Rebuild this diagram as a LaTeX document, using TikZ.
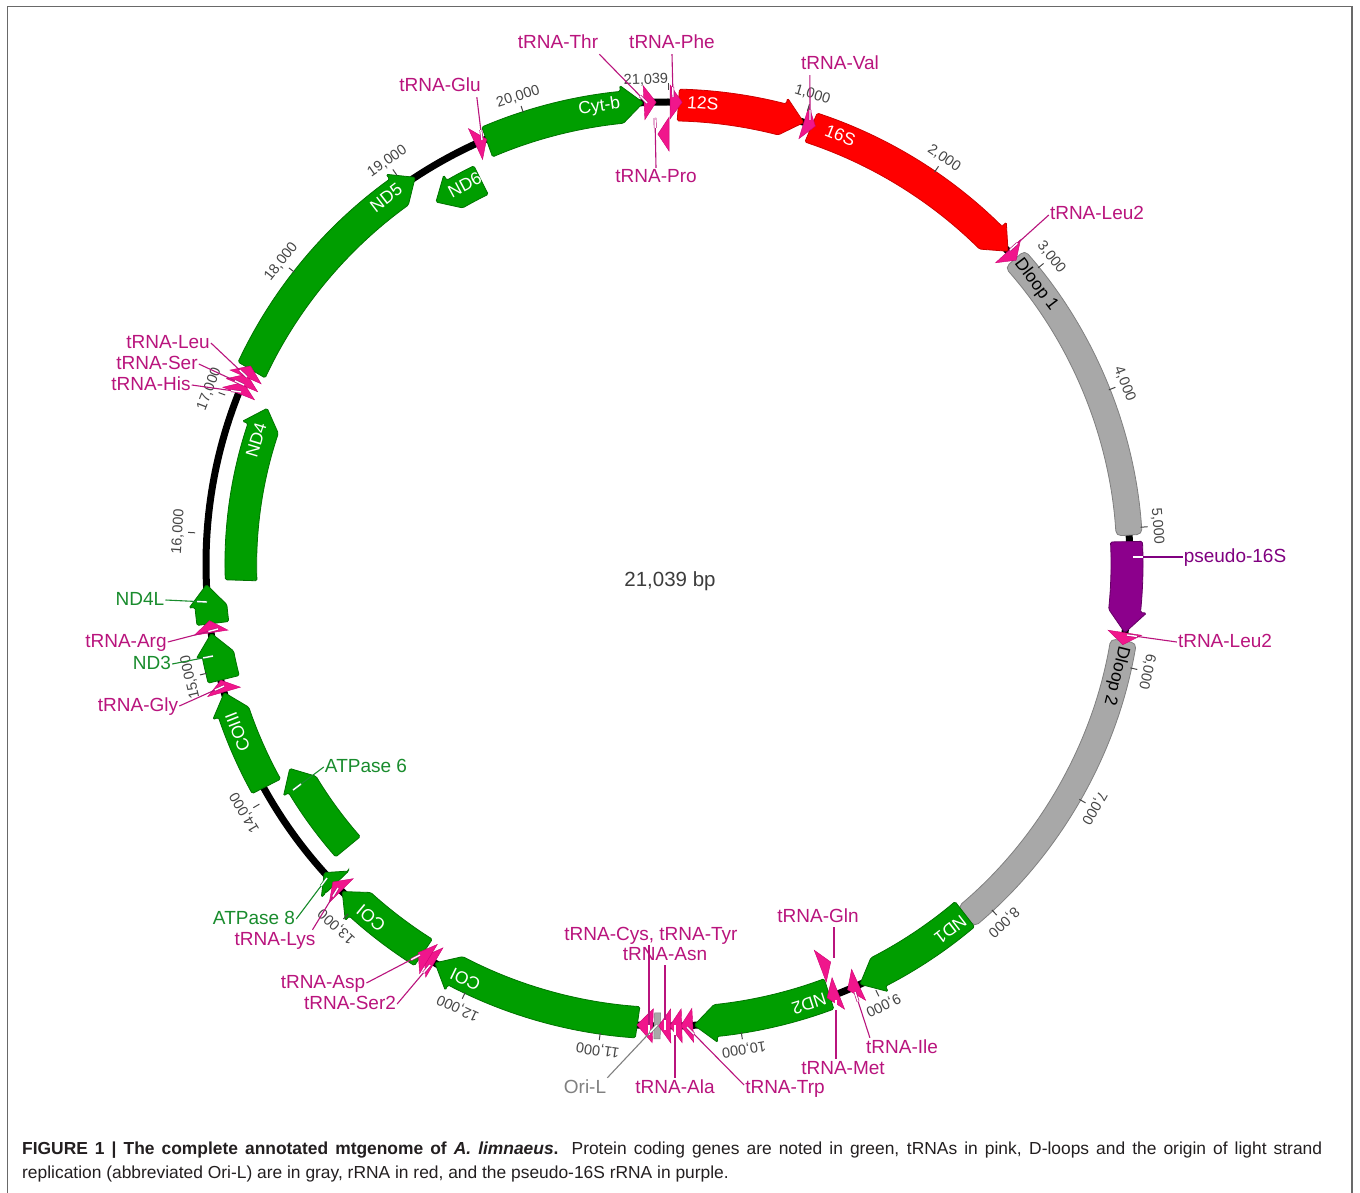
\documentclass[tikz,border=0pt]{standalone}
\usepackage{fontspec}
\setmainfont{Liberation Sans}
\usetikzlibrary{calc}
\definecolor{gfill}{RGB}{0,158,0}
\definecolor{gline}{RGB}{0,115,0}
\definecolor{rfill}{RGB}{255,0,0}
\definecolor{rline}{RGB}{205,0,0}
\definecolor{dfill}{RGB}{168,168,168}
\definecolor{dline}{RGB}{128,128,128}
\definecolor{pfill}{RGB}{140,0,140}
\definecolor{pline}{RGB}{100,0,100}
\definecolor{tfill}{RGB}{240,22,140}
\definecolor{tline}{RGB}{205,0,115}
\definecolor{tlabc}{RGB}{185,20,125}
\definecolor{glabc}{RGB}{25,140,45}
\definecolor{plabc}{RGB}{128,0,128}
\definecolor{olabc}{RGB}{128,128,128}
\definecolor{tickc}{RGB}{70,70,70}
\definecolor{capc}{RGB}{35,31,32}
\definecolor{framec}{RGB}{105,105,105}

\newcommand\featF[4]{%
 \pgfmathsetmacro\mgA{90-(#1)/21.039*360}%
 \pgfmathsetmacro\mgB{90-(#2)/21.039*360}%
 \pgfmathsetmacro\mgH{min(\mgB+2.7,\mgA)}%
 \pgfmathsetmacro\mgRo{#3+13}\pgfmathsetmacro\mgRi{#3-13}%
 \pgfmathsetmacro\mgHo{#3+19}\pgfmathsetmacro\mgHi{#3-19}%
 \draw[#4] (\mgA:\mgRo) arc[start angle=\mgA,end angle=\mgH,radius=\mgRo] -- (\mgH:\mgHo) -- (\mgB:#3) -- (\mgH:\mgHi) arc[start angle=\mgH,end angle=\mgA,radius=\mgRi] -- cycle;}
\newcommand\featR[4]{%
 \pgfmathsetmacro\mgA{90-(#1)/21.039*360}%
 \pgfmathsetmacro\mgB{90-(#2)/21.039*360}%
 \pgfmathsetmacro\mgH{max(\mgA-2.7,\mgB)}%
 \pgfmathsetmacro\mgRo{#3+13}\pgfmathsetmacro\mgRi{#3-13}%
 \pgfmathsetmacro\mgHo{#3+19}\pgfmathsetmacro\mgHi{#3-19}%
 \draw[#4] (\mgB:\mgRo) arc[start angle=\mgB,end angle=\mgH,radius=\mgRo] -- (\mgH:\mgHo) -- (\mgA:#3) -- (\mgH:\mgHi) arc[start angle=\mgH,end angle=\mgB,radius=\mgRi] -- cycle;}
\newcommand\featB[4]{%
 \pgfmathsetmacro\mgA{90-(#1)/21.039*360}%
 \pgfmathsetmacro\mgB{90-(#2)/21.039*360}%
 \pgfmathsetmacro\mgRo{#3+13}\pgfmathsetmacro\mgRi{#3-13}%
 \draw[#4] (\mgA:\mgRo) arc[start angle=\mgA,end angle=\mgB,radius=\mgRo] -- (\mgB:\mgRi) arc[start angle=\mgB,end angle=\mgA,radius=\mgRi] -- cycle;}
\newcommand\trnaF[3]{%
 \pgfmathsetmacro\mgA{90-(#1)/21.039*360}%
 \pgfmathsetmacro\mgB{min(90-(#2)/21.039*360,\mgA-1.5)}%
 \pgfmathsetmacro\mgRo{#3+17}\pgfmathsetmacro\mgRi{#3-17}%
 \draw[trnaf] (\mgA:\mgRo) -- (\mgB:#3) -- (\mgA:\mgRi) -- cycle;}
\newcommand\trnaR[3]{%
 \pgfmathsetmacro\mgA{90-(#1)/21.039*360}%
 \pgfmathsetmacro\mgB{min(90-(#2)/21.039*360,\mgA-1.5)}%
 \pgfmathsetmacro\mgRo{#3+17}\pgfmathsetmacro\mgRi{#3-17}%
 \draw[trnaf] (\mgB:\mgRo) -- (\mgA:#3) -- (\mgB:\mgRi) -- cycle;}
\newcommand\flab[5]{%
 \pgfmathsetmacro\mgA{90-(#1)/21.039*360}%
 \pgfmathsetmacro\mgR{\mgA-90}%
 \node[inlab,text=#4,rotate=\mgR] (#5) at (\mgA:#2) {#3};}
\newcommand\leadto[3]{%
 \draw[#1,line width=1.1] #2 -- (#3);
 \draw[#1,line width=0.7,double=white,double distance=1.4] (#3) -- ($(#3)!10pt!#2$);}

\tikzset{
 greenf/.style={fill=gfill,draw=gline,line width=0.8,rounded corners=1.5},
 redf/.style={fill=rfill,draw=rline,line width=0.8,rounded corners=1.5},
 grayf/.style={fill=dfill,draw=dline,line width=0.8,rounded corners=5},
 orif/.style={fill=dfill,draw=dline,line width=0.5},
 purpf/.style={fill=pfill,draw=pline,line width=0.8,rounded corners=1.5},
 trnaf/.style={fill=tfill,draw=tline,line width=0.4},
 lab/.style={font=\fontsize{19}{22}\selectfont,inner sep=1,text=tlabc,text height=14,text depth=4},
 greenlab/.style={lab,text=glabc},
 inlab/.style={font=\fontsize{17.5}{20}\selectfont,inner sep=0},
 ticklbl/.style={font=\fontsize{14.5}{16}\selectfont,text=tickc,inner sep=0},
 captext/.style={anchor=base west,inner sep=0,text=capc,font=\fontsize{17.4}{20}\selectfont},
}

\begin{document}
\begin{tikzpicture}[x=1pt,y=1pt]
\useasboundingbox (0,0) rectangle (1360,-1193);
\fill[white] (0,0) rectangle (1360,-1193);
\draw[framec,line width=1.6] (7.5,-1193) -- (7.5,-6.5) -- (1352,-6.5) -- (1352,-1193);

\begin{scope}[shift={(668,-564)}]
 \draw[black,line width=7] (0,0) circle[radius=462];
 % outer track
 \featF{0.08}{1.0}{462}{redf}
 \featF{1.07}{2.77}{462}{redf}
 \featB{2.845}{5.05}{462}{grayf}
 \featF{5.10}{5.76}{462}{purpf}
 \featB{5.82}{8.17}{462}{grayf}
 \featF{8.17}{9.085}{462}{greenf}
 \featF{9.325}{10.33}{462}{greenf}
 \featB{10.575}{10.62}{462}{orif}
 \featF{10.75}{12.29}{462}{greenf}
 \featF{12.405}{13.14}{462}{greenf}
 \featF{13.215}{13.33}{462}{greenf}
 \featF{14.09}{14.835}{462}{greenf}
 \featF{14.93}{15.275}{462}{greenf}
 \featF{15.345}{15.63}{462}{greenf}
 \featF{17.25}{19.10}{462}{greenf}
 \featF{19.69}{20.86}{462}{greenf}
 % inner track
 \featF{15.66}{17.02}{430}{greenf}
 \featF{13.36}{14.12}{430}{greenf}
 \featR{19.13}{19.52}{430}{greenf}
 % tRNAs
 \trnaF{0.015}{0.075}{462}
 \trnaF{1.0}{1.065}{462}
 \trnaF{2.77}{2.84}{462}
 \trnaF{5.76}{5.815}{462}
 \trnaF{9.095}{9.155}{462}
 \trnaR{9.22}{9.29}{430}
 \trnaF{9.255}{9.32}{462}
 \trnaF{10.34}{10.41}{462}
 \trnaF{10.42}{10.49}{462}
 \trnaF{10.50}{10.56}{462}
 \trnaF{10.63}{10.745}{462}
 \trnaF{12.295}{12.345}{462}
 \trnaF{12.345}{12.40}{462}
 \trnaF{13.15}{13.21}{462}
 \trnaF{14.84}{14.92}{462}
 \trnaF{15.28}{15.34}{462}
 \trnaF{17.045}{17.105}{462}
 \trnaF{17.11}{17.17}{462}
 \trnaF{17.175}{17.24}{462}
 \trnaF{19.60}{19.68}{462}
 \trnaF{20.865}{20.93}{462}
 \trnaR{20.96}{21.01}{430}
 % feature names
 \flab{0.253}{462}{12S}{white}{l12s}
 \flab{1.28}{462}{16S}{white}{l16s}
 \flab{3.087}{462}{Dloop 1}{black}{ld1}
 \flab{6.08}{462}{Dloop 2}{black}{ld2}
 \flab{8.317}{462}{ND1}{white}{lnd1}
 \flab{9.481}{462}{ND2}{white}{lnd2}
 \flab{12.04}{462}{COI}{white}{lco1}
 \flab{12.857}{462}{COI}{white}{lco2}
 \flab{14.534}{462}{COIII}{white}{lco3}
 \flab{16.755}{430}{ND4}{white}{lnd4}
 \flab{18.842}{462}{ND5}{white}{lnd5}
 \flab{19.391}{430}{ND6}{white}{lnd6}
 \flab{20.54}{462}{Cyt-b}{white}{lcytb}
 % ticks
 \foreach \k/\mglab in {1/{1,000},2/{2,000},3/{3,000},4/{4,000},5/{5,000},6/{6,000},7/{7,000},8/{8,000},9/{9,000},10/{10,000},11/{11,000},12/{12,000},13/{13,000},14/{14,000},15/{15,000},16/{16,000},17/{17,000},18/{18,000},19/{19,000},20/{20,000}}{
  \pgfmathsetmacro\mgT{90-\k/21.039*360}
  \pgfmathsetmacro\mgTr{\mgT-90}
  \draw[tickc,line width=1] (\mgT:474) -- (\mgT:481);
  \node[ticklbl,rotate=\mgTr] (tk\k) at (\mgT:491) {\mglab};
 }
 \draw[tickc,line width=1] (90:474) -- (90:481);
\end{scope}
\node[ticklbl,rotate=2] (tk0) at (646,-80) {21,039};

\node[font=\fontsize{20.5}{24}\selectfont,text={rgb,255:red,60;green,60;blue,60},inner sep=0] (total) at (670,-581) {21,039 bp};

% leader end points
\coordinate (c-thr) at (647,-103);
\coordinate (c-phe) at (673,-97);
\coordinate (c-pro) at (655,-118);
\coordinate (c-val) at (810,-120);
\coordinate (c-glu) at (482,-140);
\coordinate (c-leu2a) at (1010,-250);
\coordinate (c-p16) at (1133,-557);
\coordinate (c-leu2b) at (1127,-635);
\coordinate (c-gln) at (834,-968);
\coordinate (c-ile) at (855,-992);
\coordinate (c-met) at (836,-1000);
\coordinate (c-cys) at (649,-1035);
\coordinate (c-asn) at (665,-1030);
\coordinate (c-oril) at (657,-1025);
\coordinate (c-ala) at (675,-1025);
\coordinate (c-trp) at (687,-1027);
\coordinate (c-asp) at (420,-955);
\coordinate (c-ser2) at (430,-965);
\coordinate (c-atp8) at (327,-878);
\coordinate (c-lys) at (338,-888);
\coordinate (c-atp6) at (293,-790);
\coordinate (c-nd4l) at (207,-602);
\coordinate (c-arg) at (218,-629);
\coordinate (c-nd3) at (213,-656);
\coordinate (c-gly) at (224,-686);
\coordinate (c-leu) at (247,-377);
\coordinate (c-ser) at (244,-385);
\coordinate (c-his) at (241,-392);

% labels
\node[lab] (thr) at (558,-44) {tRNA-Thr};
\node[lab] (phe) at (672,-44) {tRNA-Phe};
\node[lab] (pro) at (656,-178) {tRNA-Pro};
\node[lab] (val) at (840,-65) {tRNA-Val};
\node[lab] (glu) at (440,-87) {tRNA-Glu};
\node[lab] (leu2a) at (1097,-215) {tRNA-Leu2};
\node[lab,text=plabc] (p16) at (1235,-557) {pseudo-16S};
\node[lab] (leu2b) at (1225,-642) {tRNA-Leu2};
\node[lab] (gln) at (818,-917) {tRNA-Gln};
\node[lab] (ile) at (902,-1048) {tRNA-Ile};
\node[lab] (met) at (843,-1069) {tRNA-Met};
\node[lab] (cys) at (651,-935) {tRNA-Cys, tRNA-Tyr};
\node[lab] (asn) at (665,-955) {tRNA-Asn};
\node[lab,text=olabc] (oril) at (585,-1088) {Ori-L};
\node[lab] (ala) at (675,-1088) {tRNA-Ala};
\node[lab] (trp) at (785,-1088) {tRNA-Trp};
\node[lab] (asp) at (323,-983) {tRNA-Asp};
\node[lab] (ser2) at (350,-1004) {tRNA-Ser2};
\node[greenlab] (atp8) at (254,-919) {ATPase 8};
\node[lab] (lys) at (275,-940) {tRNA-Lys};
\node[greenlab] (atp6) at (366,-767) {ATPase 6};
\node[greenlab] (nd4l) at (140,-600) {ND4L};
\node[lab] (arg) at (126,-642) {tRNA-Arg};
\node[greenlab] (nd3) at (152,-664) {ND3};
\node[lab] (gly) at (138,-706) {tRNA-Gly};
\node[lab] (leu) at (168,-343) {tRNA-Leu};
\node[lab] (ser) at (157,-364) {tRNA-Ser};
\node[lab] (his) at (151,-385) {tRNA-His};

% leader lines
\leadto{tlabc}{(thr.south east)}{c-thr}
\leadto{tlabc}{(phe.south)}{c-phe}
\leadto{tlabc}{(pro.north)}{c-pro}
\leadto{tlabc}{([xshift=10pt]val.south west)}{c-val}
\leadto{tlabc}{([xshift=-5pt]glu.south east)}{c-glu}
\leadto{tlabc}{(leu2a.west)}{c-leu2a}
\leadto{plabc}{(p16.west)}{c-p16}
\leadto{tlabc}{(leu2b.west)}{c-leu2b}
\leadto{tlabc}{([xshift=16pt]gln.south)}{c-gln}
\leadto{tlabc}{([xshift=5pt]ile.north west)}{c-ile}
\leadto{tlabc}{([xshift=-7pt]met.north)}{c-met}
\leadto{tlabc}{([xshift=-2pt]cys.south)}{c-cys}
\leadto{tlabc}{(asn.south)}{c-asn}
\leadto{olabc}{(oril.north east)}{c-oril}
\leadto{tlabc}{(ala.north)}{c-ala}
\leadto{tlabc}{([yshift=3pt]trp.west)}{c-trp}
\leadto{tlabc}{(asp.east)}{c-asp}
\leadto{tlabc}{(ser2.east)}{c-ser2}
\leadto{glabc}{(atp8.east)}{c-atp8}
\leadto{tlabc}{([xshift=-4pt]lys.north east)}{c-lys}
\leadto{glabc}{(atp6.west)}{c-atp6}
\leadto{glabc}{(nd4l.east)}{c-nd4l}
\leadto{tlabc}{(arg.east)}{c-arg}
\leadto{glabc}{(nd3.east)}{c-nd3}
\leadto{tlabc}{(gly.east)}{c-gly}
\leadto{tlabc}{(leu.east)}{c-leu}
\leadto{tlabc}{(ser.east)}{c-ser}
\leadto{tlabc}{(his.east)}{c-his}

% caption
\node[captext] (cap1) at (22,-1154) {\makebox[1300pt][s]{\textbf{FIGURE 1 | The complete annotated mtgenome of \textit{A.~limnaeus}.} Protein coding genes are noted in green, tRNAs in pink, D-loops and the origin of light strand}};
\node[captext] (cap2) at (22,-1178) {replication (abbreviated Ori-L) are in gray, rRNA in red, and the pseudo-16S rRNA in purple.};
\end{tikzpicture}
\end{document}
